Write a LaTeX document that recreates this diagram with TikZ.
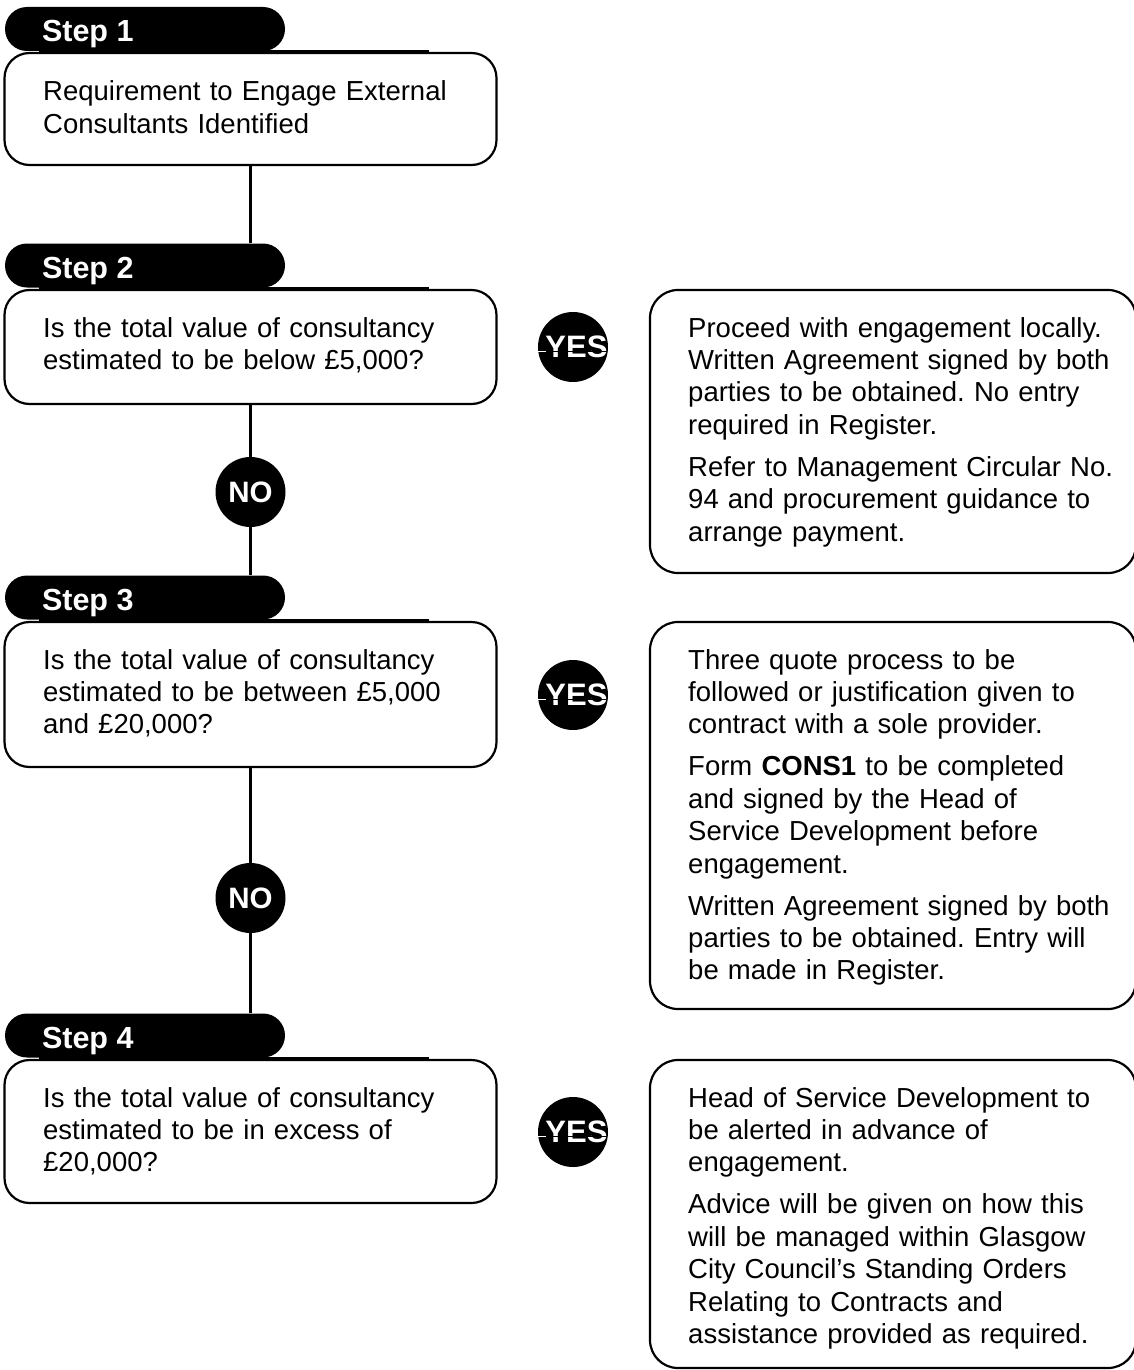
\documentclass[tikz,border=0pt]{standalone}
\usepackage{fontspec}
\setmainfont{Liberation Sans}
\usetikzlibrary{calc}
\frenchspacing
\newcommand\mybodyfont{\fontsize{27.5}{32.4}\selectfont\frenchspacing}
\newcommand\mytabfont{\fontsize{30.5}{34}\selectfont\bfseries}
\newcommand\myyesfont{\fontsize{31}{34}\selectfont\bfseries}
\newcommand\mynofont{\fontsize{29.5}{34}\selectfont\bfseries}
\tikzset{
  qbox/.style={draw, line width=2.2pt, rounded corners=25pt, minimum width=492pt, inner sep=0pt},
  abox/.style={draw, line width=2.2pt, rounded corners=28pt, minimum width=486pt, inner sep=0pt},
  steptab/.style={fill=black, rounded corners=22pt, minimum width=280pt, minimum height=44pt, inner sep=0pt},
  steplabel/.style={text=white, font=\mytabfont, anchor=base west, inner sep=0pt},
  bodytext/.style={anchor=base west, inner sep=0pt, text width=440pt, align=left, font=\mybodyfont},
  dot/.style={circle, fill=black, minimum size=70pt, inner sep=0pt},
  yeslabel/.style={text=white, font=\myyesfont, inner sep=0pt},
  nolabel/.style={text=white, font=\mynofont, inner sep=0pt},
  conn/.style={line width=3pt},
  thickedge/.style={line width=3.5pt},
}
\begin{document}
\begin{tikzpicture}[x=1pt, y=-1pt]
\useasboundingbox (0,0) rectangle (1133,1370);

% left question boxes
\node[qbox, minimum height=112pt] (b1) at (250.5,109) {};
\node[qbox, minimum height=114pt] (b2) at (250.5,347) {};
\node[qbox, minimum height=145pt] (b3) at (250.5,694.5) {};
\node[qbox, minimum height=143pt] (b4) at (250.5,1131.5) {};

\foreach \b in {b1,b2,b3,b4}{
  \draw[thickedge] ($(\b.north west)+(35.5,0)$) -- ($(\b.north west)+(425.5,0)$);
}

% step tabs
\node[steptab] (t1) at (145,29) {};
\node[steptab] (t2) at (145,265.5) {};
\node[steptab] (t3) at (145,597.5) {};
\node[steptab] (t4) at (145,1035.5) {};
\node[steplabel] (l1) at ($(t1.west)+(37,12.5)$) {Step 1};
\node[steplabel] (l2) at ($(t2.west)+(37,12.5)$) {Step 2};
\node[steplabel] (l3) at ($(t3.west)+(37,12.5)$) {Step 3};
\node[steplabel] (l4) at ($(t4.west)+(37,12.5)$) {Step 4};

% question texts
\node[bodytext] (q1) at (43,101) {Requirement to Engage External\\Consultants Identified};
\node[bodytext] (q2) at (43,337) {Is the total value of consultancy\\estimated to be below £5,000?};
\node[bodytext] (q3) at (43,669) {Is the total value of consultancy\\estimated to be between £5,000\\and £20,000?};
\node[bodytext] (q4) at (43,1107) {Is the total value of consultancy\\estimated to be in excess of\\£20,000?};

% NO circles
\node[dot] (n1) at (250.5,492) {};
\node[nolabel] (n1t) at (n1) {NO};
\node[dot] (n2) at (250.5,898) {};
\node[nolabel] (n2t) at (n2) {NO};

% connectors
\draw[conn] (b1.south) -- (b1.south |- t2.north);
\draw[conn] (b2.south) -- (n1.north);
\draw[conn] (n1.south) -- (n1.south |- t3.north);
\draw[conn] (b3.south) -- (n2.north);
\draw[conn] (n2.south) -- (n2.south |- t4.north);

% YES circles
\foreach \i/\yy in {1/347,2/695,3/1132}{
  \node[dot] (y\i) at (573,\yy) {};
  \node[yeslabel] (y\i t) at ($(y\i)+(3.5,0)$) {YES};
  \draw[white, line width=1pt] ($(y\i.west)+(0.5,4.5)$) -- ($(y\i.west)+(8,4.5)$);
  \draw[black, line width=1pt] ($(y\i.west)+(8,4.5)$) -- ($(y\i.east)+(-1.5,4.5)$);
}

% answer boxes
\node[abox, minimum height=283pt] (a1) at (893,431.5) {};
\node[abox, minimum height=387pt] (a2) at (893,815.5) {};
\node[abox, minimum height=308pt] (a3) at (893,1214) {};

\node[bodytext] (r1) at (688,337) {Proceed with engagement locally.\\Written Agreement signed by both\\parties to be obtained. No entry\\required in Register.\\[9.6pt]Refer to Management Circular No.\\94 and procurement guidance to\\arrange payment.};
\node[bodytext] (r2) at (688,669) {Three quote process to be\\followed or justification given to\\contract with a sole provider.\\[9.6pt]Form \textbf{CONS1} to be completed\\and signed by the Head of\\Service Development before\\engagement.\\[9.6pt]Written Agreement signed by both\\parties to be obtained. Entry will\\be made in Register.};
\node[bodytext] (r3) at (688,1107) {Head of Service Development to\\be alerted in advance of\\engagement.\\[9.6pt]Advice will be given on how this\\will be managed within Glasgow\\City Council’s Standing Orders\\Relating to Contracts and\\assistance provided as required.};
\end{tikzpicture}
\end{document}
